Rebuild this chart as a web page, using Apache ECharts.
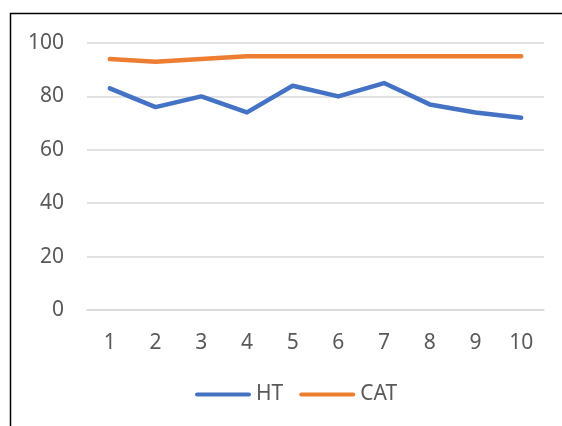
<!DOCTYPE html>
<html>
<head>
<meta charset="utf-8">
<script src="https://cdn.jsdelivr.net/npm/echarts@6/dist/echarts.min.js"></script>
<style>
html,body{margin:0;padding:0;background:#fff;}
#chart{width:562px;height:426px;}
</style>
</head>
<body>
<div id="chart"></div>
<script>
var categories = ['1','2','3','4','5','6','7','8','9','10'];
var htValues = [83, 76, 80, 74, 84, 80, 85, 77, 74, 72];
var catValues = [94, 93, 94, 95, 95, 95, 95, 95, 95, 95];
var seriesNames = ['HT', 'CAT'];

var FONT = 'Noto Sans';
var TXT = '#595959';
var legendIcon = 'path://M2,0 L54,0 A2,2 0 0 1 54,4 L2,4 A2,2 0 0 1 2,0 Z';

var chart = echarts.init(document.getElementById('chart'), null, {renderer: 'canvas'});
chart.setOption({
  backgroundColor: '#ffffff',
  animation: false,
  textStyle: {fontFamily: FONT},
  graphic: [{
    type: 'rect',
    shape: {x: 10.5, y: 13.5, width: 620, height: 520},
    style: {fill: 'none', stroke: '#000000', lineWidth: 1.5},
    z: 100
  }],
  grid: {left: 87, right: 18, top: 43, bottom: 116, containLabel: false},
  legend: {
    data: seriesNames,
    left: 190,
    top: 379,
    itemWidth: 56,
    itemHeight: 4,
    itemGap: 16,
    icon: legendIcon,
    textStyle: {fontFamily: FONT, fontSize: 21, color: TXT}
  },
  xAxis: {
    type: 'category',
    data: categories,
    boundaryGap: true,
    axisLine: {show: true, lineStyle: {color: '#d9d9d9', width: 1.5}},
    axisTick: {show: false},
    axisLabel: {fontFamily: FONT, fontSize: 21, color: TXT, margin: 23}
  },
  yAxis: {
    type: 'value',
    min: 0,
    max: 100,
    interval: 20,
    axisLine: {show: false},
    axisTick: {show: false},
    splitLine: {lineStyle: {color: '#d9d9d9', width: 1.5}},
    axisLabel: {fontFamily: FONT, fontSize: 21, color: TXT, margin: 23}
  },
  series: [
    {
      name: seriesNames[0],
      type: 'line',
      data: htValues,
      symbol: 'none',
      color: '#4472C4',
      lineStyle: {width: 4.5, color: '#4472C4', cap: 'round', join: 'round'}
    },
    {
      name: seriesNames[1],
      type: 'line',
      data: catValues,
      symbol: 'none',
      color: '#ED7D31',
      lineStyle: {width: 4.5, color: '#ED7D31', cap: 'round', join: 'round'}
    }
  ]
});
</script>
</body>
</html>
